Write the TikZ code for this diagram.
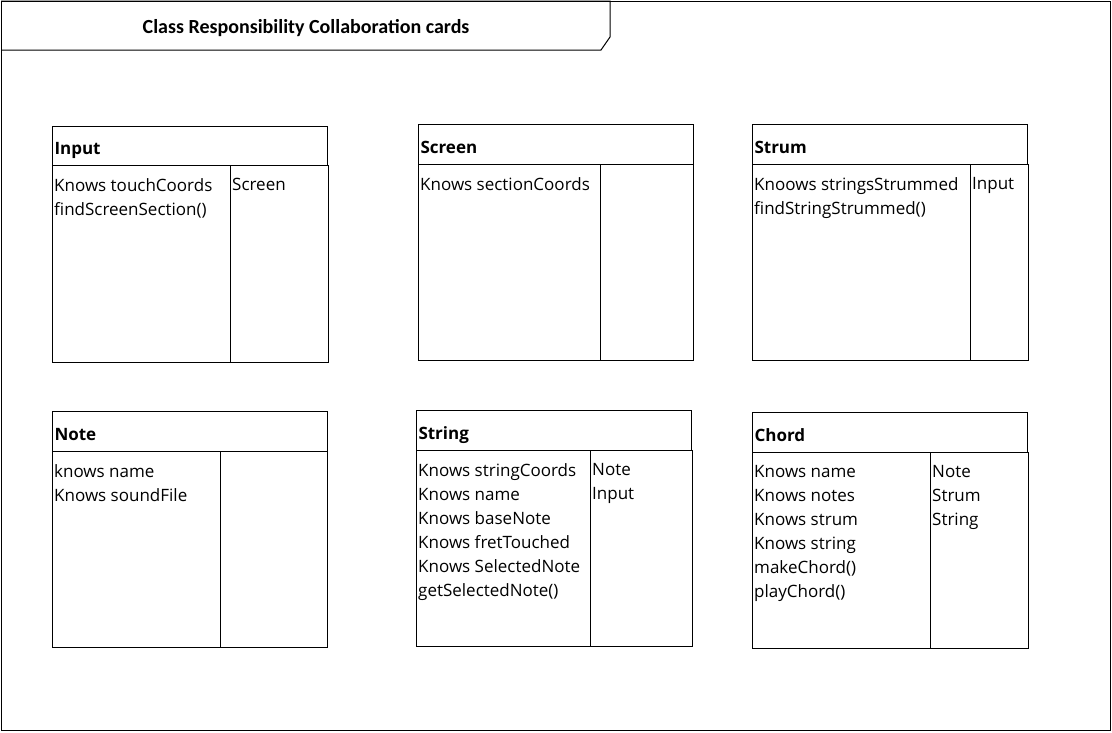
\documentclass[tikz,border=0pt]{standalone}
\usepackage{fontspec}
\setmainfont{Open Sans}
\newfontfamily\crctitlefont{Carlito}
\usepackage{tikz}
\usetikzlibrary{positioning}
\newcommand{\crcstrut}{\rule[-5pt]{0pt}{27pt}}
\tikzset{
  crcframe/.style={draw,line width=1pt},
  crchead/.style={draw,line width=1pt,anchor=north west,minimum width=275pt,
    minimum height=40pt,inner xsep=2pt,text width=271pt,align=left,
    font=\fontsize{17}{20}\selectfont\bfseries},
  crccol/.style={draw,line width=1pt,anchor=north west,minimum height=196pt,inner sep=0pt},
  crctext/.style={inner sep=0pt,align=left,font=\fontsize{17}{24}\selectfont}
}

\begin{document}
\begin{tikzpicture}[x=1pt,y=-1pt]
  \useasboundingbox (0,0) rectangle (1112,732);
  % frame and title tab
  \draw[crcframe] (1,1) rectangle (1110,730);
  \draw[crcframe] (1,1) -- (610,1) -- (610,37) -- (601,50) -- (1,50);
  \node[font=\fontsize{20}{24}\selectfont\crctitlefont\bfseries] (title) at (306,28.5) {Class Responsibility Collaboration cards};

  % Input
  \node[crchead,minimum height=39pt] (inputH) at (52,126) {\crcstrut Input};
  \node[crccol,minimum width=178pt,minimum height=197pt] (inputL) at (52,165) {};
  \node[crccol,minimum width=98pt,minimum height=197pt] (inputR) at (230,165) {};
  \node[crctext,below right=13pt and 2pt of inputL.north west] (inputLT) {Knows touchCoords\\findScreenSection()};
  \node[crctext,below right=13pt and 2pt of inputR.north west] (inputRT) {Screen};

  % Screen
  \node[crchead] (screenH) at (418,124) {\crcstrut Screen};
  \node[crccol,minimum width=182pt] (screenL) at (418,164) {};
  \node[crccol,minimum width=93pt] (screenR) at (600,164) {};
  \node[crctext,below right=13pt and 2pt of screenL.north west] (screenLT) {Knows sectionCoords};

  % Strum
  \node[crchead] (strumH) at (752,124) {\crcstrut Strum};
  \node[crccol,minimum width=218pt] (strumL) at (752,164) {};
  \node[crccol,minimum width=58pt] (strumR) at (970,164) {};
  \node[crctext,below right=13pt and 2pt of strumL.north west] (strumLT) {Knoows stringsStrummed\\findStringStrummed()};
  \node[crctext,below right=13pt and 2pt of strumR.north west] (strumRT) {Input};

  % Note
  \node[crchead] (noteH) at (52,411) {\crcstrut Note};
  \node[crccol,minimum width=168pt] (noteL) at (52,451) {};
  \node[crccol,minimum width=107pt] (noteR) at (220,451) {};
  \node[crctext,below right=13pt and 2pt of noteL.north west] (noteLT) {knows name\\Knows soundFile};

  % String
  \node[crchead] (stringH) at (416,410) {\crcstrut String};
  \node[crccol,minimum width=174pt] (stringL) at (416,450) {};
  \node[crccol,minimum width=102pt] (stringR) at (590,450) {};
  \node[crctext,below right=13pt and 2pt of stringL.north west] (stringLT) {Knows stringCoords\\Knows name\\Knows baseNote\\Knows fretTouched\\Knows SelectedNote\\getSelectedNote()};
  \node[crctext,below right=13pt and 2pt of stringR.north west] (stringRT) {Note\\Input};

  % Chord
  \node[crchead] (chordH) at (752,412) {\crcstrut Chord};
  \node[crccol,minimum width=178pt] (chordL) at (752,452) {};
  \node[crccol,minimum width=98pt] (chordR) at (930,452) {};
  \node[crctext,below right=13pt and 2pt of chordL.north west] (chordLT) {Knows name\\Knows notes\\Knows strum\\Knows string\\makeChord()\\playChord()};
  \node[crctext,below right=13pt and 2pt of chordR.north west] (chordRT) {Note\\Strum\\String};
\end{tikzpicture}
\end{document}
